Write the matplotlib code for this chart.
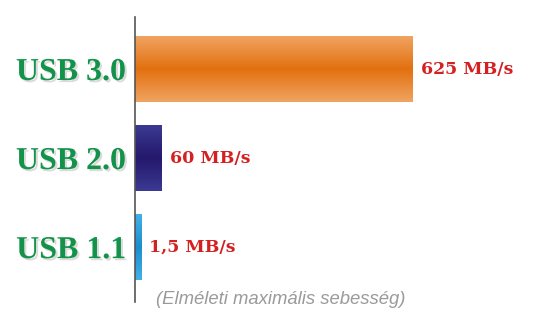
import numpy as np
import matplotlib
matplotlib.use("Agg")
import matplotlib.pyplot as plt
import matplotlib.patheffects as pe
from matplotlib.colors import LinearSegmentedColormap

# Data
categories = ["USB 1.1", "USB 2.0", "USB 3.0"]
speeds_mbs = [1.5, 60, 625]                 # nominal speeds (MB/s)
bar_lengths = [13.5, 60, 625]               # drawn bar lengths
value_labels = ["1,5 MB/s", "60 MB/s", "625 MB/s"]
caption = "(Elméleti maximális sebesség)"

edge_colors = ["#45B0E6", "#3B3A92", "#F0A462"]
center_colors = ["#1C8DD0", "#24186C", "#E2700F"]

W, H = 550, 318
fig = plt.figure(figsize=(W / 100, H / 100), dpi=100)
ax = fig.add_axes([134.5 / W, 16 / H, 405.5 / W, 285 / H])
xmax = 625 * 405.5 / 278
ax.set_xlim(0, xmax)
ax.set_ylim(-0.616, 2.584)

bar_h = 0.74
bars = ax.barh(range(len(categories)), bar_lengths, height=bar_h, color="none",
               edgecolor="none", zorder=2)
for i, b in enumerate(bars):
    cmap = LinearSegmentedColormap.from_list(
        f"g{i}", [edge_colors[i], center_colors[i], edge_colors[i]])
    grad = np.linspace(0, 1, 256).reshape(-1, 1)
    x0, y0 = b.get_x(), b.get_y()
    w, h = b.get_width(), b.get_height()
    im = ax.imshow(grad, cmap=cmap, aspect="auto",
                   extent=[x0, x0 + w, y0, y0 + h], origin="lower", zorder=2)
    im.set_clip_path(b)

ax.set_xlim(0, xmax)
ax.set_ylim(-0.616, 2.584)

for s in ["top", "right", "bottom"]:
    ax.spines[s].set_visible(False)
ax.spines["left"].set_color("#555555")
ax.spines["left"].set_linewidth(1.2)
ax.set_xticks([])
ax.set_yticks(range(len(categories)))
ax.set_yticklabels(categories)
ax.tick_params(axis="y", length=0, pad=6)
for lbl in ax.get_yticklabels():
    lbl.set_fontfamily("Liberation Serif")
    lbl.set_fontweight("bold")
    lbl.set_fontsize(23)
    lbl.set_color("#13934A")
    lbl.set_path_effects([pe.SimplePatchShadow(offset=(1.5, -1.5),
                                               shadow_rgbFace="#888888", alpha=0.3),
                          pe.Normal()])

for i, (b, t) in enumerate(zip(bars, value_labels)):
    ax.annotate(t, (b.get_width(), b.get_y() + b.get_height() / 2),
                xytext=(6, 0), textcoords="offset points", va="center", ha="left",
                fontfamily="DejaVu Serif", fontweight="bold", fontsize=12.5,
                color="#D42020")

fig.text(281 / W, 1 - 300 / H, caption, ha="center", va="center",
         fontfamily="Liberation Sans", style="italic", fontsize=13.3,
         color="#9A9A9A")

fig.savefig("out.png", dpi=100)
